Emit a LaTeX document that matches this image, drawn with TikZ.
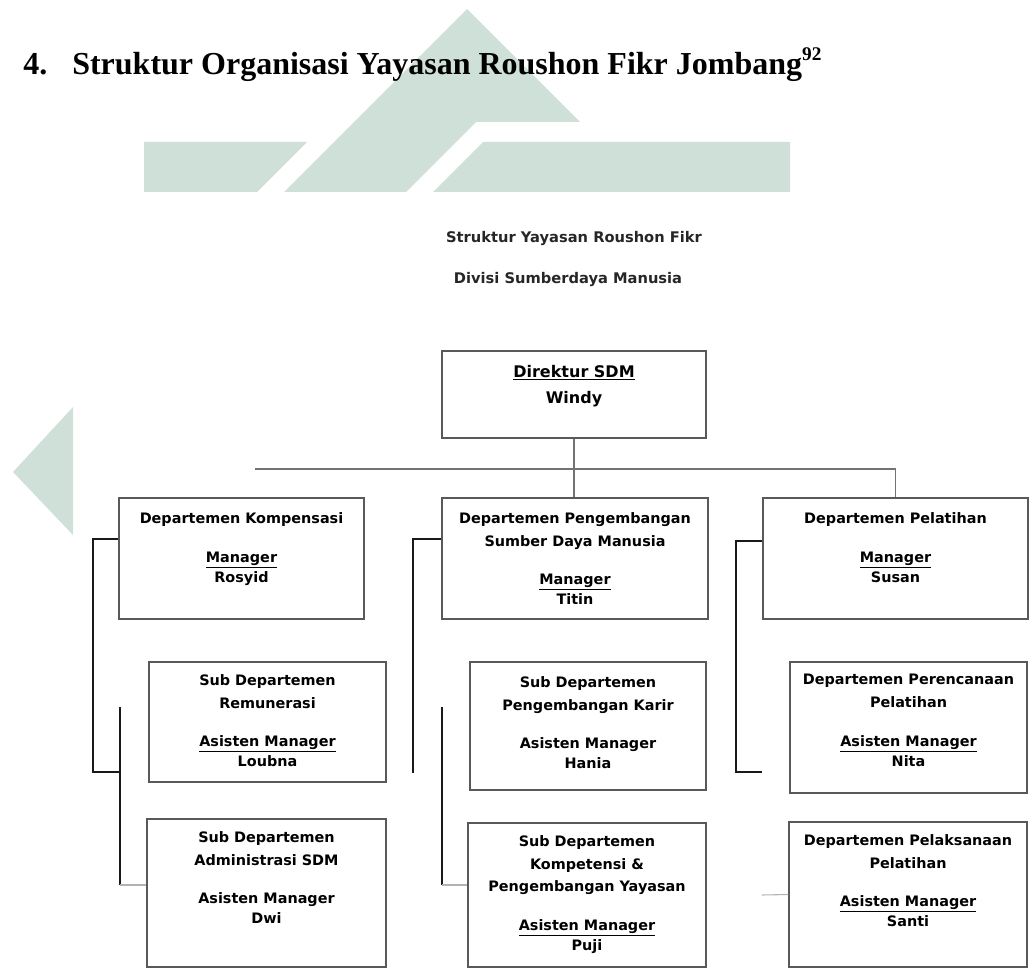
\documentclass[tikz,border=0pt]{standalone}
\usepackage{fontspec}
\usepackage{tikz}
\usetikzlibrary{fit}
\newfontfamily\orgfont{DejaVu Sans}
\newfontfamily\headfont{Liberation Serif}
\definecolor{wmark}{RGB}{206,224,216}
\tikzset{
	orgbox/.style={draw=black!65, line width=0.8pt, inner sep=0pt},
	orgtext/.style={anchor=north, align=center, inner sep=0pt, text=black, font=\orgfont\bfseries\fontsize{10.8}{15}\selectfont},
	subtext/.style={inner sep=0pt, text=black!85, font=\orgfont\bfseries\fontsize{11}{13}\selectfont},
	headtext/.style={anchor=base west, inner sep=0pt, font=\headfont\bfseries\fontsize{24}{28}\selectfont},
	link/.style={draw=black!90, line width=1.3pt},
	buslink/.style={draw=black!55, line width=1pt},
	faint/.style={draw=black!30, line width=0.8pt}
}

\begin{document}
\begin{tikzpicture}[x=0.75pt, y=-0.75pt]
	\useasboundingbox (0,0) rectangle (1030,969);
	\fill[wmark] (13,472) -- (73,407) -- (73,535) -- cycle;
	\fill[wmark] (144,142) -- (307,142) -- (257,192) -- (144,192) -- cycle;
	\fill[wmark] (467,9) -- (580,122) -- (476,122) -- (406,192) -- (284,192) -- cycle;
	\fill[wmark] (483,142) -- (790,142) -- (790,192) -- (433,192) -- cycle;

	\node[headtext] (num) at (23,75) {4.};
	\node[headtext] (title) at (72,75) {Struktur Organisasi Yayasan Roushon Fikr Jombang\raisebox{11pt}{\fontsize{14.5}{15}\selectfont 92}};
	\node[subtext] (sub1) at (574,239) {Struktur Yayasan Roushon Fikr};
	\node[subtext] (sub2) at (568,280) {Divisi Sumberdaya Manusia};

	\node[orgbox, fit={(442,351) (706,438)}] (dir) {};
	\node[orgbox, fit={(119,498) (364,619)}] (komp) {};
	\node[orgbox, fit={(442,498) (708,619)}] (pengem) {};
	\node[orgbox, fit={(763,498) (1028,619)}] (pelat) {};
	\node[orgbox, fit={(149,662) (386,782)}] (remun) {};
	\node[orgbox, fit={(147,819) (386,967)}] (admin) {};
	\node[orgbox, fit={(470,662) (706,790)}] (karir) {};
	\node[orgbox, fit={(468,823) (706,967)}] (kompet) {};
	\node[orgbox, fit={(790,662) (1027,793)}] (rencana) {};
	\node[orgbox, fit={(789,822) (1027,967)}] (laksana) {};

	\node[orgtext, font=\orgfont\bfseries\fontsize{12}{19.5}\selectfont] (dirT) at ([yshift=-11pt]dir.north) {\underline{Direktur SDM}\\Windy};
	\node[orgtext] (kompT) at ([yshift=-11pt]komp.north) {Departemen Kompensasi\\[14pt]\underline{Manager}\\Rosyid};
	\node[orgtext] (pengemT) at ([yshift=-11pt]pengem.north) {Departemen Pengembangan\\[2pt]Sumber Daya Manusia\\[14pt]\underline{Manager}\\Titin};
	\node[orgtext] (pelatT) at ([yshift=-11pt]pelat.north) {Departemen Pelatihan\\[14pt]\underline{Manager}\\Susan};
	\node[orgtext] (remunT) at ([yshift=-9.5pt]remun.north) {Sub Departemen\\[2pt]Remunerasi\\[14pt]\underline{Asisten Manager}\\Loubna};
	\node[orgtext] (adminT) at ([yshift=-9.5pt]admin.north) {Sub Departemen\\[2pt]Administrasi SDM\\[14pt]Asisten Manager\\Dwi};
	\node[orgtext] (karirT) at ([yshift=-11pt]karir.north) {Sub Departemen\\[2pt]Pengembangan Karir\\[14pt]Asisten Manager\\Hania};
	\node[orgtext] (kompetT) at ([yshift=-9.5pt]kompet.north) {Sub Departemen\\[2pt]Kompetensi \&\\[2pt]Pengembangan Yayasan\\[14pt]\underline{Asisten Manager}\\Puji};
	\node[orgtext] (rencanaT) at ([yshift=-9.5pt]rencana.north) {Departemen Perencanaan\\[2pt]Pelatihan\\[14pt]\underline{Asisten Manager}\\Nita};
	\node[orgtext] (laksanaT) at ([yshift=-9.5pt]laksana.north) {Departemen Pelaksanaan\\[2pt]Pelatihan\\[14pt]\underline{Asisten Manager}\\Santi};

	\coordinate (busL) at (255,469);
	\draw[buslink] (dir.south) -- (dir.south |- pengem.north);
	\draw[buslink] (busL) -- (busL -| pelat.north) -- (pelat.north);

	\coordinate (kompL) at (93,772);
	\coordinate (kompE) at (120,772);
	\coordinate (subLa) at (120,707);
	\coordinate (subLb) at (120,885);
	\draw[link] ([yshift=14.6pt]komp.west) -| (kompL) -- (kompE);
	\draw[link] (subLa) -- (subLb);
	\draw[faint] (subLb) -- (subLb -| admin.west);

	\coordinate (pengL) at (413,773);
	\coordinate (subMa) at (442,707);
	\coordinate (subMb) at (442,885);
	\draw[link] ([yshift=14.6pt]pengem.west) -| (pengL);
	\draw[link] (subMa) -- (subMb);
	\draw[faint] (subMb) -- (subMb -| kompet.west);

	\coordinate (pelatL) at (736,772);
	\coordinate (pelatE) at (762,772);
	\coordinate (laksL) at (762,895);
	\draw[link] ([yshift=13.1pt]pelat.west) -| (pelatL) -- (pelatE);
	\draw[faint] (laksana.west) -- (laksL);
\end{tikzpicture}
\end{document}
